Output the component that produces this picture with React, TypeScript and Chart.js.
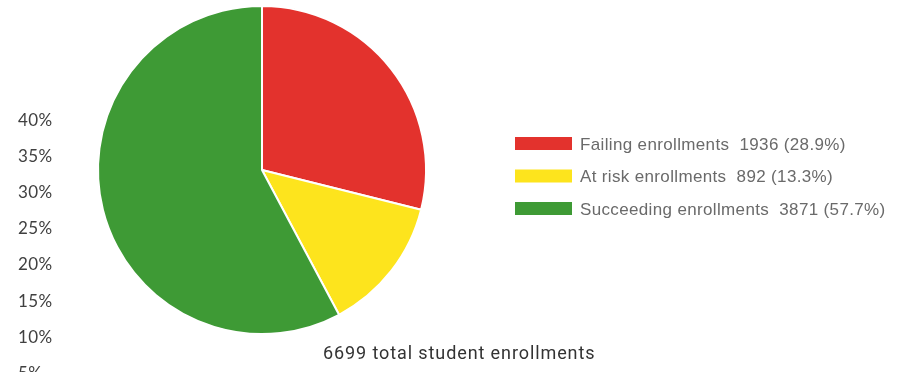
import React, { useEffect, useRef } from "react";
import { Chart, registerables } from "chart.js";

Chart.register(...registerables);

const categories = ["Failing enrollments", "At risk enrollments", "Succeeding enrollments"];
const counts = [1936, 892, 3871];
const percentLabels = ["28.9%", "13.3%", "57.7%"];
const colors = ["#e3322d", "#fde41d", "#3e9a35"];
const axisTickLabels = ["40%", "35%", "30%", "25%", "20%", "15%", "10%", "5%"];
const totalLabel = "6699 total student enrollments";

const legendPlugin = {
  id: "sideLegend",
  afterDraw(chart: any) {
    const ctx = chart.ctx;
    const ds = chart.data.datasets[0];
    const labels = chart.data.labels as string[];
    ctx.save();
    ctx.font = "17px 'Liberation Sans', Arial, sans-serif";
    (ctx as any).letterSpacing = "0.35px";
    ctx.textBaseline = "alphabetic";
    labels.forEach((lab, i) => {
      const y = 143.5 + i * 32.5;
      ctx.fillStyle = ds.backgroundColor[i];
      ctx.fillRect(515, y - 6.5, 57, 13);
      ctx.fillStyle = "#6a6a6a";
      ctx.fillText(`${lab}  ${ds.data[i]} (${percentLabels[i]})`, 580, y + 6);
    });
    ctx.restore();
  },
};

export default function App() {
  const ref = useRef<HTMLCanvasElement>(null);
  useEffect(() => {
    if (!ref.current) return;
    const chart = new Chart(ref.current, {
      type: "pie",
      data: {
        labels: categories,
        datasets: [
          {
            data: counts,
            backgroundColor: colors,
            borderColor: "#ffffff",
            borderWidth: 2,
            hoverOffset: 0,
          },
        ],
      },
      options: {
        responsive: false,
        animation: false,
        layout: { padding: { left: 97, right: 480, top: 5, bottom: 37 } },
        plugins: {
          legend: { display: false },
          tooltip: { enabled: false },
        },
      },
      plugins: [legendPlugin],
    });
    return () => chart.destroy();
  }, []);

  return (
    <div style={{ position: "fixed", left: 0, top: 0, width: 907, height: 372, background: "#fff", overflow: "hidden" }}>
      <canvas ref={ref} width={907} height={372} style={{ position: "absolute", left: 0, top: 0 }} />
      {axisTickLabels.map((t, i) => (
        <div
          key={t}
          style={{
            position: "absolute",
            left: 18,
            top: 119.5 + i * 36.2 - 11,
            height: 22,
            lineHeight: "22px",
            fontFamily: "Lato, 'Open Sans', sans-serif",
            fontSize: 17,
            letterSpacing: "0.4px",
            color: "#404040",
          }}
        >
          {t}
        </div>
      ))}
      <div
        style={{
          position: "absolute",
          left: 323,
          top: 342,
          lineHeight: "22px",
          fontFamily: "Roboto, sans-serif",
          fontSize: 18,
          letterSpacing: "0.9px",
          color: "#333",
          whiteSpace: "nowrap",
        }}
      >
        {totalLabel}
      </div>
    </div>
  );
}
